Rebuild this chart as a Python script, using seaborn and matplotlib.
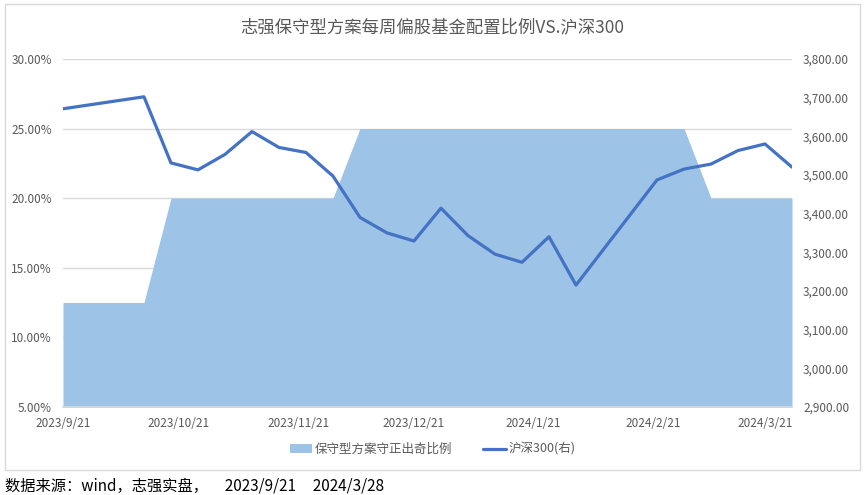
import pandas as pd
import seaborn as sns
import matplotlib
matplotlib.use('Agg')
import matplotlib.pyplot as plt
import matplotlib.dates as mdates
from matplotlib.patches import Rectangle, Patch
from matplotlib.lines import Line2D
from matplotlib.ticker import FuncFormatter, MultipleLocator

sns.set_theme(style='white')
plt.rcParams['font.family'] = ['Noto Sans CJK SC', 'DejaVu Sans']

# 周度数据
dates = ['2023-09-21', '2023-10-12', '2023-10-19', '2023-10-26', '2023-11-02',
         '2023-11-09', '2023-11-16', '2023-11-23', '2023-11-30', '2023-12-07',
         '2023-12-14', '2023-12-21', '2023-12-28', '2024-01-04', '2024-01-11',
         '2024-01-18', '2024-01-25', '2024-02-01', '2024-02-22', '2024-02-29',
         '2024-03-07', '2024-03-14', '2024-03-21', '2024-03-28']
stock_ratio = [0.125, 0.125, 0.20, 0.20, 0.20, 0.20, 0.20, 0.20, 0.20, 0.25,
               0.25, 0.25, 0.25, 0.25, 0.25, 0.25, 0.25, 0.25, 0.25, 0.25,
               0.20, 0.20, 0.20, 0.20]
hs300 = [3671, 3702, 3531, 3513, 3553, 3612, 3571, 3558, 3497, 3390,
         3350, 3329, 3414, 3343, 3295, 3274, 3340, 3215, 3487, 3515,
         3528, 3563, 3580, 3520]
tick_dates = ['2023-09-21', '2023-10-21', '2023-11-21', '2023-12-21',
              '2024-01-21', '2024-02-21', '2024-03-21']

df = pd.DataFrame({'date': pd.to_datetime(dates), 'ratio': stock_ratio, 'hs300': hs300})

area_color = '#9DC3E6'
line_color = '#4472C4'
grey = '#595959'

fig = plt.figure(figsize=(8.65, 4.95), dpi=100)
ax = fig.add_axes([0.0728, 0.178, 0.8428, 0.703])

ax.fill_between(df['date'], 0, df['ratio'], color=area_color, linewidth=0, zorder=2)
ax.set_ylim(0.05, 0.30)
ax.yaxis.set_major_locator(MultipleLocator(0.05))
ax.yaxis.set_major_formatter(FuncFormatter(lambda v, p: f'{v * 100:.2f}%'))
ax.grid(axis='y', color='#D9D9D9', linewidth=1, zorder=0)
ax.set_axisbelow(True)

ax2 = ax.twinx()
sns.lineplot(data=df, x='date', y='hs300', ax=ax2, color=line_color, linewidth=2.3, zorder=5)
ax2.set_ylim(2900, 3800)
ax2.yaxis.set_major_locator(MultipleLocator(100))
ax2.yaxis.set_major_formatter(FuncFormatter(lambda v, p: f'{v:,.2f}'))
ax2.set_xlabel('')
ax2.set_ylabel('')

ax.set_xlim(df['date'].iloc[0], df['date'].iloc[-1])
ax.set_xticks(pd.to_datetime(tick_dates))
ax.xaxis.set_major_formatter(mdates.DateFormatter('%Y/%-m/%-d'))

for a in (ax, ax2):
    for s in a.spines.values():
        s.set_visible(False)
    a.tick_params(axis='both', labelsize=8.5, labelcolor=grey, length=0, pad=8)
ax.spines['bottom'].set_visible(True)
ax.spines['bottom'].set_color('#D9D9D9')
ax.tick_params(axis='x', length=4, color='#D9D9D9', direction='out', pad=3)

fig.text(0.5, 0.945, '志强保守型方案每周偏股基金配置比例VS.沪深300', ha='center', va='center',
         fontsize=12.5, color=grey)

handles = [Patch(facecolor=area_color, edgecolor='none'),
           Line2D([0], [0], color=line_color, linewidth=2.3)]
fig.legend(handles, ['保守型方案守正出奇比例', '沪深300(右)'], loc='center',
           bbox_to_anchor=(0.5, 0.092), ncol=2, frameon=False, fontsize=9,
           labelcolor=grey, handlelength=1.8, handletextpad=0.2, columnspacing=2.5)

fig.patches.append(Rectangle((0.006, 0.051), 0.988, 0.94, transform=fig.transFigure,
                             fill=False, edgecolor='#D9D9D9', linewidth=1))

fig.text(0.006, 0.018, '数据来源：wind，志强实盘，     2023/9/21     2024/3/28', ha='left', va='center',
         fontsize=11, color='black')

fig.savefig('out.png', dpi=100)
